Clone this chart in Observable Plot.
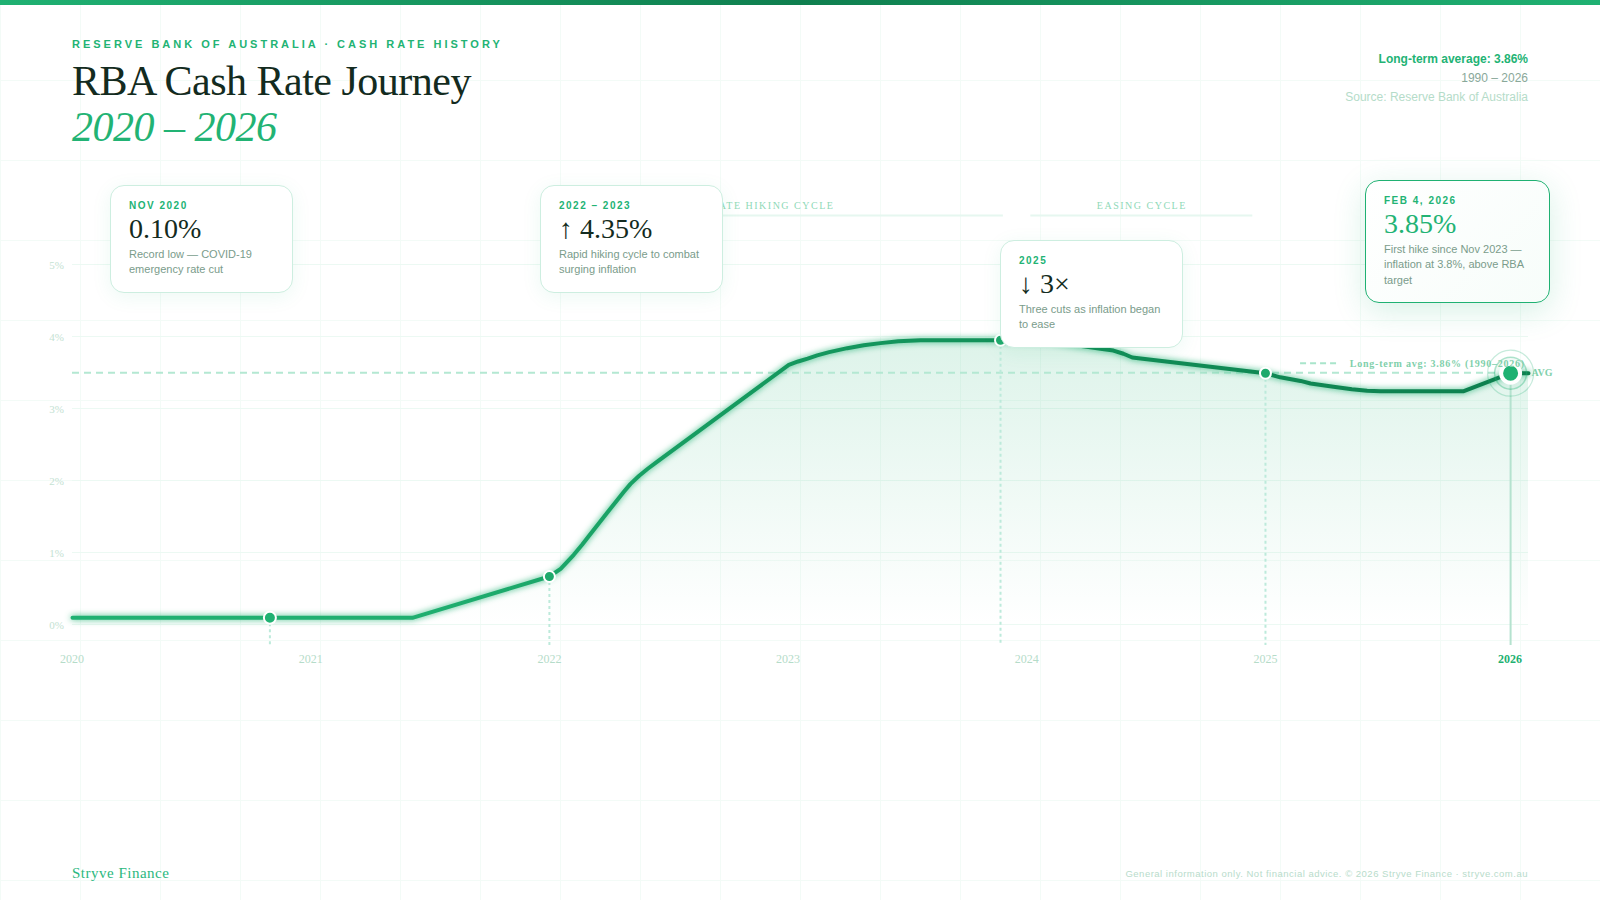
<!DOCTYPE html>
<html><head><meta charset="utf-8">
<script src="https://cdn.jsdelivr.net/npm/d3@7"></script>
<script src="https://cdn.jsdelivr.net/npm/@observablehq/plot@0.6"></script>
<style>
html,body{margin:0;padding:0;width:1600px;height:900px;overflow:hidden;background:#fff}
body{position:relative;font-family:"Liberation Sans",sans-serif;
 background-image:linear-gradient(#f3fbf7 1px,transparent 1px),linear-gradient(90deg,#f3fbf7 1px,transparent 1px);
 background-size:80px 80px}
.bar{position:absolute;left:0;top:0;width:1600px;height:5px;background:linear-gradient(90deg,#1fb172,#0f7f4f 50%,#1fb172)}
.eyebrow{position:absolute;left:72px;top:37px;font:bold 11px/14px "Liberation Sans";letter-spacing:3px;color:#22b374;white-space:nowrap}
h1{position:absolute;left:72px;top:58px;margin:0;font:400 42px/46px "Liberation Serif";letter-spacing:-.5px;color:#132b20;white-space:nowrap}
h1 em{color:#22b374;font-style:italic}
.meta{position:absolute;right:72px;top:50px;text-align:right;font:12px/18.8px "Liberation Sans";color:#8aa89a}
.meta b{color:#22b374}.meta .s{color:#b5dcc9}
#chart{position:absolute;left:0;top:170px;width:1600px;height:510px}
#chart svg{overflow:visible;background:transparent}
.card{position:absolute;box-sizing:border-box;background:#fff;border:1px solid #cdeee0;border-radius:14px;padding:13px 18px;width:183px;height:108px;box-shadow:0 4px 20px rgba(31,177,114,.08)}
.card .l{font:bold 10px/14px "Liberation Sans";letter-spacing:1.5px;color:#22b374}
.card .v{font:400 28px/32px "Liberation Serif";color:#132b20;margin:0 0 2px}
.card .d{font:11px/15.4px "Liberation Sans";color:#7a9c8b}
.card.hi{border:1.5px solid #1fb172;width:185px;height:122.5px;box-shadow:0 8px 32px rgba(31,177,114,.18);background:linear-gradient(135deg,#fff,#f7fdfa)}
.card.hi .v{color:#22b374}
.brand{position:absolute;left:72px;top:864px;font:15px/18px "Liberation Serif";letter-spacing:.5px;color:#2bb880}
.foot{position:absolute;right:72px;top:867px;font:9.5px/14px "Liberation Sans";letter-spacing:.5px;color:#b8dccb}
</style></head>
<body>
<div class="bar"></div>
<div class="eyebrow">RESERVE BANK OF AUSTRALIA · CASH RATE HISTORY</div>
<h1>RBA Cash Rate Journey<br><em>2020 – 2026</em></h1>
<div class="meta"><div><b>Long-term average: 3.86%</b></div><div>1990 – 2026</div><div class="s">Source: Reserve Bank of Australia</div></div>
<div id="chart"></div>
<div class="card" style="left:110px;top:185px"><div class="l">NOV 2020</div><div class="v">0.10%</div><div class="d">Record low — COVID-19 emergency rate cut</div></div>
<div class="card" style="left:540px;top:185px"><div class="l">2022 – 2023</div><div class="v">↑ 4.35%</div><div class="d">Rapid hiking cycle to combat surging inflation</div></div>
<div class="card" style="left:1000px;top:240px"><div class="l">2025</div><div class="v">↓ 3×</div><div class="d">Three cuts as inflation began to ease</div></div>
<div class="card hi" style="left:1365px;top:180px"><div class="l">FEB 4, 2026</div><div class="v">3.85%</div><div class="d">First hike since Nov 2023 — inflation at 3.8%, above RBA target</div></div>
<div class="brand">Stryve Finance</div>
<div class="foot">General information only. Not financial advice. © 2026 Stryve Finance · stryve.com.au</div>
<script>
const years = [2020, 2021.424, 2021.998, 2022.045, 2022.1, 2022.135, 2022.17, 2022.24, 2022.31, 2022.338, 2022.373, 2022.41, 2022.45, 2023.001, 2023.04, 2023.08, 2023.12, 2023.17, 2023.246, 2023.315, 2023.385, 2023.46, 2023.553, 2023.888, 2024.097, 2024.307, 2024.361, 2024.403, 2024.44, 2024.475, 2024.998, 2025.06, 2025.145, 2025.187, 2025.283, 2025.36, 2025.424, 2025.48, 2025.829, 2026.025, 2026.1];
const rates = [0.1, 0.1, 0.674, 0.78, 0.975, 1.115, 1.265, 1.56, 1.85, 1.96, 2.07, 2.17, 2.27, 3.614, 3.66, 3.7, 3.745, 3.79, 3.845, 3.885, 3.915, 3.94, 3.955, 3.955, 3.937, 3.836, 3.812, 3.767, 3.715, 3.7, 3.497, 3.44, 3.39, 3.355, 3.31, 3.275, 3.255, 3.247, 3.247, 3.497, 3.497];
const yTicks = [0, 1, 2, 3, 4, 5];
const xTicks = [2020, 2021, 2022, 2023, 2024, 2025];
const lastYear = 2026.025;
const avgRate = 3.497;
const markerYears = [2020.827, 2021.998, 2023.888, 2024.998];
const markerRates = [0.1, 0.674, 3.955, 3.497];
const cycleNames = ["RATE HIKING CYCLE", "EASING CYCLE"];
const cycleFrom = [2021.965, 2024.015];
const cycleTo = [2023.9, 2024.945];

const rows = years.map((x, i) => ({x, y: rates[i]}));
const markers = markerYears.map((x, i) => ({x, y: markerRates[i]}));
const cycles = cycleNames.map((name, i) => ({name, from: cycleFrom[i], to: cycleTo[i], mid: (cycleFrom[i] + cycleTo[i]) / 2}));
const bottom = -0.285, cycleTextY = 5.82, cycleRuleY = 5.68, avgLabelY = 3.628;
const serif = "Liberation Serif";

function defs() {
  const s = d3.create("svg:defs");
  const a = s.append("linearGradient").attr("id", "areaGrad").attr("x1", 0).attr("x2", 0).attr("y1", 0).attr("y2", 1);
  a.append("stop").attr("offset", "0%").attr("stop-color", "#1fb172").attr("stop-opacity", .15);
  a.append("stop").attr("offset", "100%").attr("stop-color", "#1fb172").attr("stop-opacity", 0);
  const l = s.append("linearGradient").attr("id", "lineGrad").attr("x1", 0).attr("x2", 1).attr("y1", 0).attr("y2", 0);
  l.append("stop").attr("offset", "0%").attr("stop-color", "#1fb172");
  l.append("stop").attr("offset", "25%").attr("stop-color", "#1fae6f");
  l.append("stop").attr("offset", "45%").attr("stop-color", "#159a5f");
  l.append("stop").attr("offset", "100%").attr("stop-color", "#0d7f4e");
  return s.node();
}

const plot = Plot.plot({
  width: 1600, height: 510,
  marginLeft: 72, marginRight: 72, marginTop: 94.5, marginBottom: 55.5,
  style: {fontFamily: serif, background: "transparent", overflow: "visible"},
  x: {domain: [2020, 2026.1]},
  y: {domain: [0, 5]},
  marks: [
    defs,
    Plot.gridY(yTicks, {dy: -0.5, stroke: "#ecf9f3", strokeOpacity: 1, strokeWidth: 1.2}),
    Plot.areaY(rows, {x: "x", y: "y", fill: "url(#areaGrad)"}),
    Plot.ruleY([avgRate], {x1: 2020, x2: 2026.1, dy: -0.5, stroke: "#b4e8d2", strokeWidth: 2, strokeDasharray: "7 5"}),
    Plot.ruleX(markers, {x: "x", y1: "y", y2: bottom, stroke: "#bdeadb", strokeWidth: 2, strokeDasharray: "3 3"}),
    Plot.ruleX([lastYear], {y1: avgRate, y2: bottom, stroke: "#b5e2cf", strokeWidth: 2}),
    Plot.axisY(yTicks, {anchor: "left", label: null, tickSize: 0, tickPadding: 8, dy: 0.5, dx: -0.5, tickFormat: d => d + "%", fill: "#c4e2d3", fontSize: 11}),
    Plot.axisX(xTicks, {anchor: "bottom", label: null, tickSize: 0, tickPadding: 29.5, dx: -0.5, tickFormat: d => String(d), fill: "#b5dcc9", fontSize: 12}),
    Plot.axisX([lastYear], {anchor: "bottom", label: null, tickSize: 0, tickPadding: 29.5, dx: -0.5, tickFormat: () => "2026", fill: "#1fb172", fontSize: 12, fontWeight: "bold"}),
    Plot.ruleY(cycles, {x1: "from", x2: "to", y: cycleRuleY, dy: -0.5, stroke: "#e6f7f0", strokeWidth: 2}),
    Plot.text(cycles, {x: "mid", y: cycleTextY, text: "name", fill: "#8fd9b8", fontSize: 10}),
    Plot.ruleY([avgLabelY], {x1: 2025.145, x2: 2025.312, dy: -0.5, stroke: "#a9e5cb", strokeWidth: 2, strokeDasharray: "6 4"}),
    Plot.line(rows, {x: "x", y: "y", stroke: "url(#lineGrad)", strokeWidth: 4, strokeLinejoin: "round", strokeLinecap: "round"}),
    Plot.text(["AVG"], {x: 2026.1, y: avgRate, text: d => d, dx: 3, textAnchor: "start", fill: "#7fd0ab", fontSize: 10, fontWeight: "bold"}),
    Plot.dot(markers.slice(0, 1), {x: "x", y: "y", r: 6, fill: "#1fb172", stroke: "#fff", strokeWidth: 2}),
    Plot.dot(markers.slice(1), {x: "x", y: "y", r: 5.5, fill: "#1fa96c", stroke: "#fff", strokeWidth: 2}),
    Plot.dot([lastYear], {x: d => d, y: avgRate, r: 23, fill: "none", stroke: "#1fb172", strokeOpacity: .25, strokeWidth: 1.2}),
    Plot.dot([lastYear], {x: d => d, y: avgRate, r: 16, fill: "#1fb172", fillOpacity: .06, stroke: "#1fb172", strokeOpacity: .35, strokeWidth: 1.5}),
    Plot.dot([lastYear], {x: d => d, y: avgRate, r: 9.5, fill: "#1fb172", stroke: "#fff", strokeWidth: 4}),
    Plot.text(["Long-term avg: 3.86% (1990–2026)"], {x: 2026.085, y: avgLabelY, text: d => d, textAnchor: "end", fill: "#7fd0ab", fontSize: 10, fontWeight: "bold"})
  ]
});
d3.select(plot).selectAll('g[aria-label="line"]').style("filter", "drop-shadow(0 0 3px rgba(31,177,114,.9))");
d3.select(plot).selectAll('g[aria-label="text"] text').each(function () {
  const t = this.textContent;
  this.style.letterSpacing = cycleNames.includes(t) ? "1.5px" : t.startsWith("Long-term") ? "0.75px" : null;
});
document.getElementById("chart").append(plot);
</script>
</body></html>
